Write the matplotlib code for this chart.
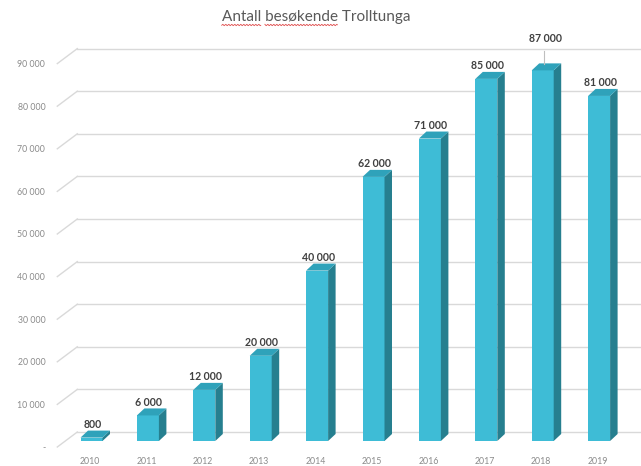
import matplotlib
matplotlib.use("Agg")
import matplotlib.pyplot as plt
from matplotlib.patches import Polygon, Rectangle
from matplotlib.lines import Line2D
import numpy as np

# ---------------- data ----------------
years = ["2010", "2011", "2012", "2013", "2014", "2015", "2016", "2017", "2018", "2019"]
visitors = [800, 6000, 12000, 20000, 40000, 62000, 71000, 85000, 87000, 81000]
value_labels = ["800", "6 000", "12 000", "20 000", "40 000", "62 000",
                "71 000", "85 000", "87 000", "81 000"]
yticks = [0, 10000, 20000, 30000, 40000, 50000, 60000, 70000, 80000, 90000]
ytick_labels = ["-", "10 000", "20 000", "30 000", "40 000", "50 000",
                "60 000", "70 000", "80 000", "90 000"]
title = "Antall besøkende Trolltunga"

# ---------------- style ----------------
FRONT = "#3ebcd6"
SIDE = "#267f8f"
TOP = "#2fa2ba"
GRID = "#d9d9d9"
TICK = "#8a8a8a"
LABEL = "#404040"
FONT = "Lato"

W, H = 641, 466
fig = plt.figure(figsize=(W / 100, H / 100), dpi=100)
fig.patch.set_facecolor("white")

ax_left_px, ax_bottom_px, ax_w_px, ax_h_px = 63.3, 25, 564, 426
ax = fig.add_axes([ax_left_px / W, ax_bottom_px / H, ax_w_px / W, ax_h_px / H])
n = len(years)
ax.set_xlim(-0.5, n - 0.5)
ax.set_ylim(0, 100000)
ax.axis("off")

sx = ax_w_px / n          # px per x unit
sy = ax_h_px / 100000     # px per value unit
def px2x(p):
    return p / sx
def px2y(p):
    return p / sy

bw = px2x(22)
ddx, ddy = px2x(7.5), px2y(7)

# back-wall gridlines with slanted side-wall segment
wall_left = -0.5 + px2x(14)
wall_right = -0.5 + px2x(W - ax_left_px)
wall_up = px2y(9)
for v, lab in zip(yticks, ytick_labels):
    yb = v + wall_up
    ax.add_line(Line2D([wall_left, wall_right], [yb, yb], color=GRID, lw=1.0,
                       zorder=1, clip_on=False))
    ax.add_line(Line2D([wall_left - px2x(20), wall_left], [yb - px2y(15), yb],
                       color=GRID, lw=1.0, zorder=1, clip_on=False))
    ax.text(-0.5 - px2x(18), v - px2y(7), lab, ha="right", va="center",
            fontsize=6.3, color=TICK, family=FONT, clip_on=False)

# bars
for i, (v, lab) in enumerate(zip(visitors, value_labels)):
    x0, x1 = i - bw / 2, i + bw / 2
    ax.add_patch(Rectangle((x0, 0), bw, v, facecolor=FRONT, edgecolor="none", zorder=3))
    ax.add_patch(Polygon([(x1, 0), (x1 + ddx, ddy), (x1 + ddx, v + ddy), (x1, v)],
                         closed=True, facecolor=SIDE, edgecolor="none", zorder=3))
    ax.add_patch(Polygon([(x0, v), (x1, v), (x1 + ddx, v + ddy), (x0 + ddx, v + ddy)],
                         closed=True, facecolor=TOP, edgecolor="none", zorder=3))
    if years[i] == "2018":
        ax.text(i + px2x(3), v + px2y(32), lab, ha="center", va="center",
                fontsize=7.6, fontweight="bold", color=LABEL, family=FONT, zorder=5)
        ax.add_line(Line2D([i + px2x(1), i + px2x(1)], [v + px2y(6), v + px2y(19)],
                           color="#bfbfbf", lw=0.8, zorder=4))
    else:
        ax.text(i + px2x(1), v + px2y(13), lab, ha="center", va="center",
                fontsize=7.6, fontweight="bold", color=LABEL, family=FONT, zorder=5)
    ax.text(i - px2x(1.5), -px2y(20), years[i], ha="center", va="center",
            fontsize=6.3, color=TICK, family=FONT, clip_on=False)

# title
t = fig.text(316 / W, 1 - 17 / H, title, ha="center", va="center",
             fontsize=11, color="#595959", family=FONT)

# spell-check style wavy underline under the first two words
fig.canvas.draw()
r = fig.canvas.get_renderer()
tb = t.get_window_extent(r)
def width_of(s):
    tmp = fig.text(0, 0, s, fontsize=11, family=FONT)
    w = tmp.get_window_extent(r).width
    tmp.remove()
    return w
w_antall = width_of("Antall")
w_two = width_of("Antall besøkende")
w_sp = width_of("Antall b") - width_of("Antall") - width_of("b")
for a, b in [(0, w_antall), (w_antall + max(w_sp, 3), w_two)]:
    xs = np.arange(tb.x0 + a, tb.x0 + b, 0.5)
    ys = tb.y0 - 1.0 + 0.7 * np.sin(xs * 2 * np.pi / 3.0)
    fig.add_artist(Line2D(xs / W, ys / H, transform=fig.transFigure,
                          color="#e05050", lw=0.6))

fig.savefig("out.png", dpi=100, facecolor="white")
